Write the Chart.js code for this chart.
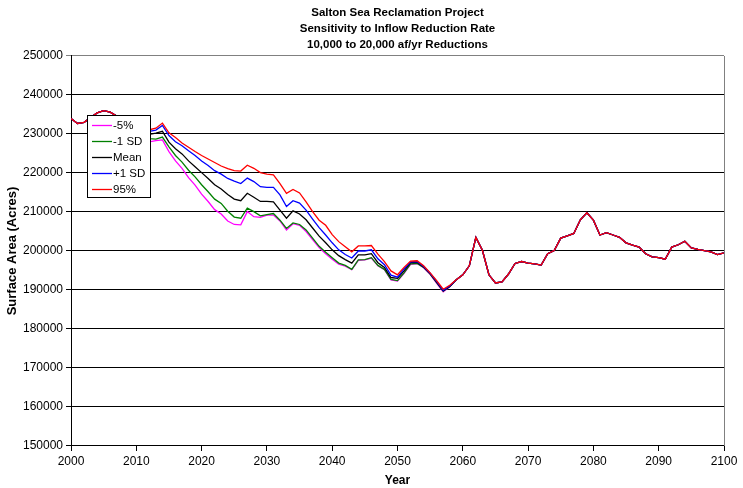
<!DOCTYPE html>
<html>
<head>
<meta charset="utf-8">
<script src="https://cdn.jsdelivr.net/npm/chart.js@4/dist/chart.umd.min.js"></script>
<style>
  html, body { margin: 0; padding: 0; background: #fff; }
  #c { display: block; }
</style>
</head>
<body>
<canvas id="c" width="743" height="488"></canvas>
<script>
// ---- DATA ----
const years = [
  2000,2001,2002,2003,2004,2005,2006,2007,2008,2009,
  2010,2011,2012,2013,2014,2015,2016,2017,2018,2019,
  2020,2021,2022,2023,2024,2025,2026,2027,2028,2029,
  2030,2031,2032,2033,2034,2035,2036,2037,2038,2039,
  2040,2041,2042,2043,2044,2045,2046,2047,2048,2049,
  2050,2051,2052,2053,2054,2055,2056,2057,2058,2059,
  2060,2061,2062,2063,2064,2065,2066,2067,2068,2069,
  2070,2071,2072,2073,2074,2075,2076,2077,2078,2079,
  2080,2081,2082,2083,2084,2085,2086,2087,2088,2089,
  2090,2091,2092,2093,2094,2095,2096,2097,2098,2099,
  2100
];

const minus5pct = [
  234000,232700,233000,234200,235400,236000,235600,234600,233400,232000,
  230500,229100,228000,228300,228500,225500,223100,221200,218800,216900,
  214600,212700,210600,209500,207700,206800,206700,210100,208800,208600,
  209200,209200,207700,205400,207000,206600,205000,202900,200900,199300,
  197900,196600,196100,195200,197600,197700,198200,196200,195200,192600,
  192300,194300,196600,196800,195700,194000,191700,189500,190800,192600,
  193900,196200,203500,200200,193900,191800,192100,194100,196800,197300,
  196900,196700,196400,199300,200100,203300,203900,204500,208000,209800,
  207900,204100,204700,204100,203500,202100,201500,201000,199300,198500,
  198300,197900,201000,201600,202500,200800,200400,200100,199800,199100,
  199500
];

const minus1SD = [
  234000,232700,233000,234200,235400,236000,235600,234600,233500,232200,
  230900,229700,228800,228700,229200,226700,224500,222800,220700,219000,
  217000,215200,213300,212200,210200,208700,208400,211000,210100,209000,
  209300,209600,207900,205800,207200,206800,205400,203300,201200,199700,
  198300,196900,196300,195300,197700,197800,198300,196300,195300,192700,
  192400,194400,196700,196800,195800,194100,191900,189700,190900,192600,
  193900,196200,203500,200200,193900,191800,192100,194100,196800,197300,
  196900,196700,196400,199300,200100,203300,203900,204500,208000,209800,
  207900,204100,204700,204100,203500,202100,201500,201000,199300,198500,
  198300,197900,201000,201600,202500,200800,200400,200100,199800,199100,
  199500
];

const meanVals = [
  234000,232700,233000,234200,235400,236000,235600,234600,233700,232700,
  231600,230600,229900,230200,230700,227900,226200,224900,223100,221600,
  220100,218600,217000,215900,214500,213300,212900,214800,213800,212700,
  212700,212600,210500,208400,210300,209500,208000,205900,203800,202100,
  200300,198800,197800,196900,199000,199000,199300,197000,195800,193200,
  193000,194900,197000,197100,195900,194200,192000,189800,190900,192600,
  193900,196200,203500,200200,193900,191800,192100,194100,196800,197300,
  196900,196700,196400,199300,200100,203300,203900,204500,208000,209800,
  207900,204100,204700,204100,203500,202100,201500,201000,199300,198500,
  198300,197900,201000,201600,202500,200800,200400,200100,199800,199100,
  199500
];

const plus1SD = [
  234000,232700,233000,234200,235400,236000,235600,234600,233900,233100,
  232200,231300,230700,231000,232200,229600,228000,227000,225700,224500,
  223100,221900,220600,219700,218600,217900,217300,218700,217800,216500,
  216300,216300,214400,211400,212900,212300,210500,208200,206000,204100,
  202100,200300,199100,198200,200000,200000,200300,198000,196500,193800,
  193300,195400,197200,197300,196000,194300,192200,189900,191000,192600,
  193900,196200,203500,200200,193900,191800,192100,194100,196800,197300,
  196900,196700,196400,199300,200100,203300,203900,204500,208000,209800,
  207900,204100,204700,204100,203500,202100,201500,201000,199300,198500,
  198300,197900,201000,201600,202500,200800,200400,200100,199800,199100,
  199500
];

const pct95 = [
  234000,232700,233000,234200,235400,236000,235600,234600,234000,233300,
  232500,231700,231100,231500,232800,230300,229100,227700,226600,225500,
  224500,223600,222700,221800,221100,220600,220500,222000,221200,220100,
  219700,219500,217300,214800,215800,214900,212600,210100,207900,206600,
  204200,202400,201100,199800,201300,201300,201400,199200,197300,194900,
  193900,195800,197400,197500,196200,194400,192400,190200,191200,192600,
  193900,196200,203500,200200,193900,191800,192100,194100,196800,197300,
  196900,196700,196400,199300,200100,203300,203900,204500,208000,209800,
  207900,204100,204700,204100,203500,202100,201500,201000,199300,198500,
  198300,197900,201000,201600,202500,200800,200400,200100,199800,199100,
  199500
];

const seriesLabels = ['-5%', '-1 SD', 'Mean', '+1 SD', '95%'];
const seriesColors = ['#FF00FF', '#008000', '#000000', '#0000FF', '#FF0000'];
const seriesValues = [minus5pct, minus1SD, meanVals, plus1SD, pct95];

const titleLines = [
  'Salton Sea Reclamation Project',
  'Sensitivity to Inflow Reduction Rate',
  '10,000 to 20,000 af/yr Reductions'
];
const xTitle = 'Year';
const yTitle = 'Surface Area (Acres)';
const yMin = 150000, yMax = 250000, yStep = 10000;
const xMin = 2000, xMax = 2100, xStep = 10;

// ---- CHART ----
const FONT = 'Arial, "Liberation Sans", sans-serif';

const datasets = seriesLabels.map((lab, i) => ({
  label: lab,
  data: years.map((yr, j) => ({ x: yr, y: seriesValues[i][j] })),
  borderColor: seriesColors[i],
  backgroundColor: seriesColors[i],
  borderWidth: 1.3,
  pointRadius: 0,
  tension: 0,
  fill: false,
  order: seriesLabels.length - 1 - i   // 95% drawn on top
}));

const boxLegend = {
  id: 'boxLegend',
  afterDraw(chart) {
    const c = chart.ctx;
    const x0 = 87.5, y0 = 115.5, w = 63, h = 82;
    c.save();
    c.fillStyle = '#fff';
    c.fillRect(x0, y0, w, h);
    c.strokeStyle = '#000';
    c.lineWidth = 1;
    c.strokeRect(x0, y0, w, h);
    c.font = '11.5px ' + FONT;
    c.textBaseline = 'middle';
    c.textAlign = 'left';
    chart.data.datasets.forEach((ds, i) => {
      const y = 125 + i * 16;
      c.strokeStyle = ds.borderColor;
      c.lineWidth = 1.3;
      c.beginPath();
      c.moveTo(92, y + 0.5);
      c.lineTo(112, y + 0.5);
      c.stroke();
      c.fillStyle = '#000';
      c.fillText(ds.label, 113, y + 1);
    });
    c.restore();
  }
};

const frame = {
  id: 'frame',
  afterDraw(chart) {
    const a = chart.chartArea, c = chart.ctx;
    c.save();
    c.strokeStyle = '#808080';
    c.lineWidth = 1;
    c.beginPath();
    c.moveTo(Math.round(a.right) + 0.5, a.top);
    c.lineTo(Math.round(a.right) + 0.5, a.bottom);
    c.stroke();
    c.restore();
  }
};

new Chart(document.getElementById('c'), {
  type: 'line',
  data: { datasets },
  options: {
    responsive: false,
    animation: false,
    devicePixelRatio: 1,
    layout: { padding: { left: 0, right: 19, top: 0, bottom: 0 } },
    plugins: {
      legend: { display: false },
      tooltip: { enabled: false },
      title: {
        display: true,
        fullSize: false,
        text: titleLines,
        color: '#000',
        font: { family: FONT, size: 11.5, weight: 'bold', lineHeight: 1.3913 },
        padding: { top: 5, bottom: 3 }
      }
    },
    scales: {
      x: {
        type: 'linear',
        min: xMin, max: xMax,
        afterFit: s => { s.height = 42; },
        ticks: {
          stepSize: xStep,
          color: '#000',
          font: { family: FONT, size: 12 },
          padding: 3,
          maxRotation: 0,
          callback: v => String(v)
        },
        grid: { drawOnChartArea: false, color: '#000', tickLength: 5 },
        border: { color: '#000', width: 1 },
        title: {
          display: true, text: xTitle, color: '#000',
          font: { family: FONT, size: 12, weight: 'bold' },
          padding: { top: 0, bottom: 0 }
        }
      },
      y: {
        min: yMin, max: yMax,
        afterFit: s => { s.width = 71; },
        ticks: {
          stepSize: yStep,
          color: '#000',
          font: { family: FONT, size: 12 },
          padding: 3,
          callback: v => String(v)
        },
        grid: {
          color: c => (c.tick && c.tick.value === yMax) ? '#808080' : '#000',
          tickLength: 5
        },
        border: { color: '#000', width: 1 },
        title: {
          display: true, text: yTitle, color: '#000',
          font: { family: FONT, size: 13, weight: 'bold' },
          padding: { top: 5, bottom: 0 }
        }
      }
    }
  },
  plugins: [boxLegend, frame]
});
</script>
</body>
</html>
